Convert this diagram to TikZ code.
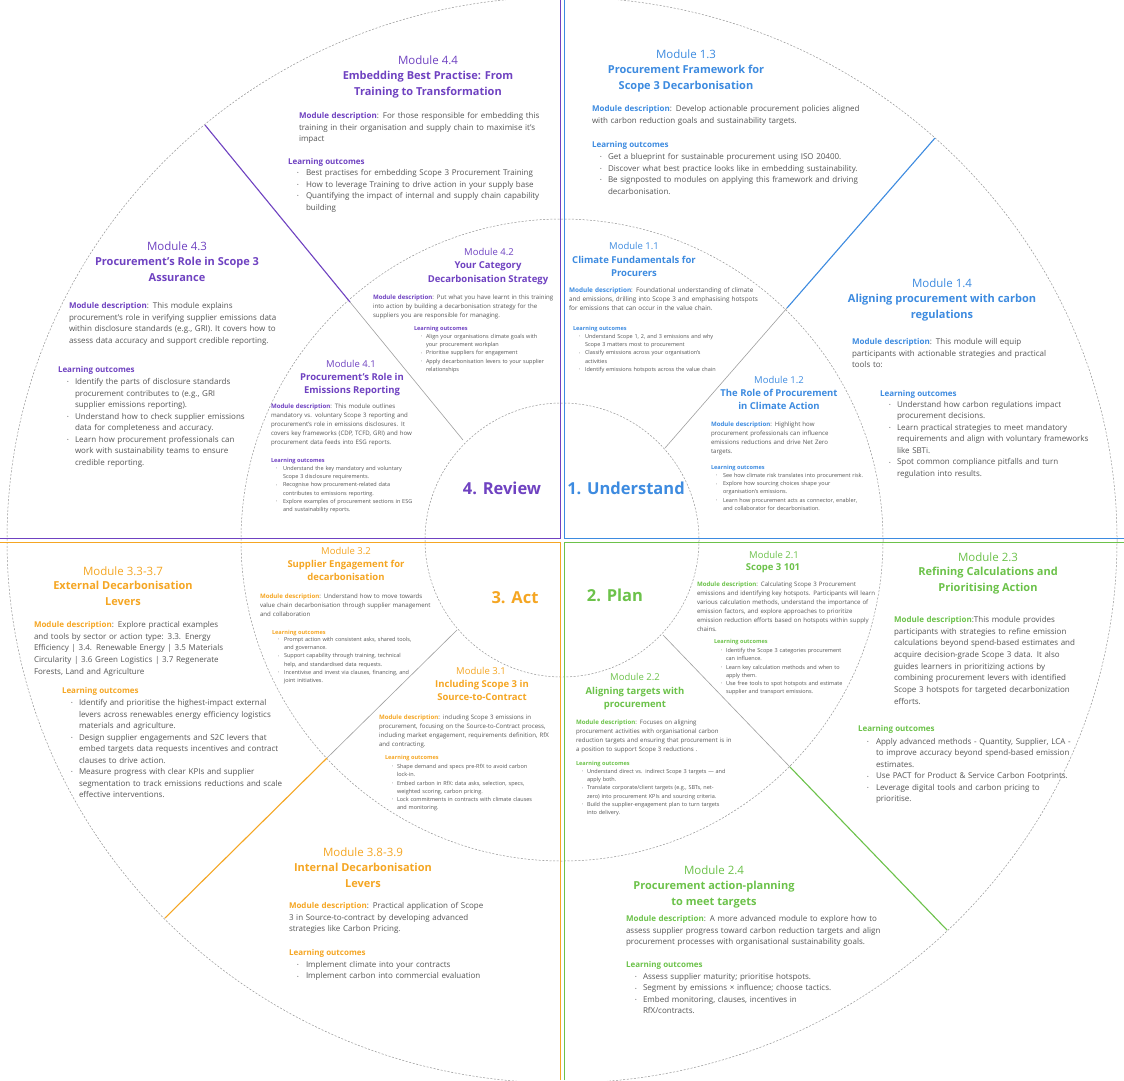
\documentclass[tikz,border=0pt]{standalone}
\usepackage{fontspec}
\setmainfont{Open Sans}
\usepackage{graphicx}
\definecolor{purp}{RGB}{111,66,193}
\definecolor{blu}{RGB}{61,139,224}
\definecolor{orng}{RGB}{245,166,35}
\definecolor{grn}{RGB}{108,194,74}
\definecolor{txt}{RGB}{85,85,85}
\definecolor{dashgray}{RGB}{150,150,150}
\newlength\bind
\newcommand\bdot{\raisebox{0.12em}{\scalebox{0.55}{•}}}
\newcommand\li[1]{\hangindent=\bind\hangafter=1\noindent\makebox[\bind][l]{\bdot}{\let\\\newline#1}\par}
\newcommand\md[1]{{\bfseries\color{#1}Module description}:}
\tikzset{
 every node/.style={inner sep=0pt, outer sep=0pt},
 bi/.style={execute at begin node={\setlength\bind{#1}}},
 onum/.style={font=\fontsize{11.5}{14}\selectfont, anchor=base},
 ottl/.style={font=\fontsize{11}{16}\selectfont\bfseries, anchor=north, align=center},
 odesc/.style={font=\fontsize{8}{11.7}\selectfont, text=txt, anchor=north west, text width=300pt, align=left},
 ohead/.style={font=\fontsize{8}{10}\selectfont\bfseries, anchor=base west},
 olist/.style={font=\fontsize{8}{11.5}\selectfont, text=txt, anchor=north west, text width=300pt, align=left},
 inum/.style={font=\fontsize{9.5}{11}\selectfont, anchor=base},
 ittl/.style={font=\fontsize{9.5}{13.5}\selectfont\bfseries, anchor=north, align=center},
 idesc/.style={font=\fontsize{6.1}{9}\selectfont, text=txt, anchor=north west, text width=240pt, align=left},
 ihead/.style={font=\fontsize{5.6}{7}\selectfont\bfseries, anchor=base west},
 ilist/.style={font=\fontsize{5.5}{8.2}\selectfont, text=txt, anchor=north west, text width=240pt, align=left},
 big/.style={font=\fontsize{16.5}{20}\selectfont\bfseries, anchor=base},
 dashc/.style={draw=dashgray, line width=0.5pt, dash pattern=on 2pt off 1.6pt},
 spoke/.style={draw=gray!75, line width=0.6pt},
 cspoke/.style={line width=1.1pt},
}
\begin{document}
\begin{tikzpicture}[x=1pt,y=-1pt]
\useasboundingbox (0,0) rectangle (1124,1080);
\fill[white] (0,0) rectangle (1124,1080);
\coordinate (c) at (562,540);
\begin{scope}
\clip (0,0) rectangle (1124,1080);
\draw[dashc] (c) ellipse[x radius=555, y radius=543];
\end{scope}
\draw[dashc] (c) circle[radius=321];
\draw[dashc] (c) circle[radius=137];
% quadrant edges
\draw[purp, line width=1pt] (560,0) -- (560,538) -- (0,538);
\draw[blu, line width=1pt] (564,0) -- (564,538) -- (1124,538);
\draw[orng, line width=1pt] (560,1080) -- (560,542) -- (0,542);
\draw[grn, line width=1pt] (564,1080) -- (564,542) -- (1124,542);
% spokes
\coordinate (tli) at (463,440); \coordinate (tlm) at (350,302); \coordinate (tlo) at (205,125);
\coordinate (tri) at (665,448); \coordinate (trm) at (787,308); \coordinate (tro) at (935,138);
\coordinate (bri) at (663,635); \coordinate (brm) at (790,767); \coordinate (bro) at (947,930);
\coordinate (bli) at (457,630); \coordinate (blm) at (327,758); \coordinate (blo) at (165,918);
\draw[spoke] (tli) -- (tlm); \draw[cspoke, purp] (tlm) -- (tlo);
\draw[spoke] (tri) -- (trm); \draw[cspoke, blu] (trm) -- (tro);
\draw[spoke] (bri) -- (brm); \draw[cspoke, grn] (brm) -- (bro);
\draw[spoke] (bli) -- (blm); \draw[cspoke, orng] (blm) -- (blo);
% big labels
\node[big, text=purp] (rev) at (502,494) {4. Review};
\node[big, text=blu] (und) at (626,494) {1. Understand};
\node[big, text=orng] (act) at (515,603) {3. Act};
\node[big, text=grn] (pln) at (615,601) {2. Plan};
% ---------- Module 4.4
\node[onum, text=purp] (m44n) at (428,64) {Module 4.4};
\node[ottl, text=purp] (m44t) at (428,71) {Embedding Best Practise: From\\Training to Transformation};
\node[odesc] (m44d) at (299,112.4) {\md{purp} For those responsible for embedding this\\training in their organisation and supply chain to maximise it's\\impact};
\node[ohead, text=purp] (m44h) at (288,164.6) {Learning outcomes};
\node[olist, bi=9pt] (m44l) at (297,169.4) {\li{Best practises for embedding Scope 3 Procurement Training}\li{How to leverage Training to drive action in your supply base}\li{Quantifying the impact of internal and supply chain capability\\building}};
% ---------- Module 1.3
\node[onum, text=blu] (m13n) at (686,58) {Module 1.3};
\node[ottl, text=blu] (m13t) at (686,65) {Procurement Framework for\\Scope 3 Decarbonisation};
\node[odesc] (m13d) at (592,105.4) {\md{blu} Develop actionable procurement policies aligned\\with carbon reduction goals and sustainability targets.};
\node[ohead, text=blu] (m13h) at (592,147.6) {Learning outcomes};
\node[olist, bi=8pt] (m13l) at (600,153.4) {\li{Get a blueprint for sustainable procurement using ISO 20400.}\li{Discover what best practice looks like in embedding sustainability.}\li{Be signposted to modules on applying this framework and driving\\decarbonisation.}};
% ---------- Module 4.3
\node[onum, text=purp] (m43n) at (177,250) {Module 4.3};
\node[ottl, text=purp] (m43t) at (177,257) {Procurement's Role in Scope 3\\Assurance};
\node[odesc] (m43d) at (69,302.4) {\md{purp} This module explains\\procurement's role in verifying supplier emissions data\\within disclosure standards (e.g., GRI). It covers how to\\assess data accuracy and support credible reporting.};
\node[ohead, text=purp] (m43h) at (58,372.6) {Learning outcomes};
\node[olist, bi=8pt] (m43l) at (67,378.4) {\li{Identify the parts of disclosure standards\\procurement contributes to (e.g., GRI\\supplier emissions reporting).}\li{Understand how to check supplier emissions\\data for completeness and accuracy.}\li{Learn how procurement professionals can\\work with sustainability teams to ensure\\credible reporting.}};
% ---------- Module 1.4
\node[onum, text=blu] (m14n) at (942,287) {Module 1.4};
\node[ottl, text=blu] (m14t) at (942,294) {Aligning procurement with carbon\\regulations};
\node[odesc] (m14d) at (852,338.4) {\md{blu} This module will equip\\participants with actionable strategies and practical\\tools to:};
\node[ohead, text=blu] (m14h) at (880,396.6) {Learning outcomes};
\node[olist, bi=8pt] (m14l) at (889,401.4) {\li{Understand how carbon regulations impact\\procurement decisions.}\li{Learn practical strategies to meet mandatory\\requirements and align with voluntary frameworks\\like SBTi.}\li{Spot common compliance pitfalls and turn\\regulation into results.}};
% ---------- Module 3.3-3.7
\node[onum, text=orng] (m33n) at (123,575) {Module 3.3-3.7};
\node[ottl, text=orng] (m33t) at (123,581) {External Decarbonisation\\Levers};
\node[odesc] (m33d) at (34,621.4) {\md{orng} Explore practical examples\\and tools by sector or action type: 3.3. Energy\\Efficiency | 3.4. Renewable Energy | 3.5 Materials\\Circularity | 3.6 Green Logistics | 3.7 Regenerate\\Forests, Land and Agriculture};
\node[ohead, text=orng] (m33h) at (62,693.6) {Learning outcomes};
\node[olist, bi=8pt] (m33l) at (71,699.4) {\li{Identify and prioritise the highest-impact external\\levers across renewables energy efficiency logistics\\materials and agriculture.}\li{Design supplier engagements and S2C levers that\\embed targets data requests incentives and contract\\clauses to drive action.}\li{Measure progress with clear KPIs and supplier\\segmentation to track emissions reductions and scale\\effective interventions.}};
% ---------- Module 2.3
\node[onum, text=grn] (m23n) at (988,561) {Module 2.3};
\node[ottl, text=grn] (m23t) at (988,567) {Refining Calculations and\\Prioritising Action};
\node[odesc] (m23d) at (894,616.4) {\md{grn}This module provides\\participants with strategies to refine emission\\calculations beyond spend-based estimates and\\acquire decision-grade Scope 3 data. It also\\guides learners in prioritizing actions by\\combining procurement levers with identified\\Scope 3 hotspots for targeted decarbonization\\efforts.};
\node[ohead, text=grn] (m23h) at (858,731.6) {Learning outcomes};
\node[olist, bi=9pt] (m23l) at (867,738.4) {\li{Apply advanced methods - Quantity, Supplier, LCA -\\to improve accuracy beyond spend-based emission\\estimates.}\li{Use PACT for Product \& Service Carbon Footprints.}\li{Leverage digital tools and carbon pricing to\\prioritise.}};
% ---------- Module 3.8-3.9
\node[onum, text=orng] (m38n) at (363,856) {Module 3.8-3.9};
\node[ottl, text=orng] (m38t) at (363,863) {Internal Decarbonisation\\Levers};
\node[odesc] (m38d) at (289,902.4) {\md{orng} Practical application of Scope\\3 in Source-to-contract by developing advanced\\strategies like Carbon Pricing.};
\node[ohead, text=orng] (m38h) at (289,955.6) {Learning outcomes};
\node[olist, bi=9pt] (m38l) at (297,961.4) {\li{Implement climate into your contracts}\li{Implement carbon into commercial evaluation}};
% ---------- Module 2.4
\node[onum, text=grn] (m24n) at (714,874) {Module 2.4};
\node[ottl, text=grn] (m24t) at (714,881) {Procurement action-planning\\to meet targets};
\node[odesc] (m24d) at (626,915.4) {\md{grn} A more advanced module to explore how to\\assess supplier progress toward carbon reduction targets and align\\procurement processes with organisational sustainability goals.};
\node[ohead, text=grn] (m24h) at (626,967.6) {Learning outcomes};
\node[olist, bi=8pt] (m24l) at (635,973.4) {\li{Assess supplier maturity; prioritise hotspots.}\li{Segment by emissions × influence; choose tactics.}\li{Embed monitoring, clauses, incentives in\\RfX/contracts.}};
% ---------- Module 4.2
\node[inum, text=purp] (m42n) at (489,255.3) {Module 4.2};
\node[ittl, text=purp] (m42t) at (488,262) {Your Category\\Decarbonisation Strategy};
\node[idesc] (m42d) at (373,295.1) {\md{purp} Put what you have learnt in this training\\into action by building a decarbonisation strategy for the\\suppliers you are responsible for managing.};
\node[ihead, text=purp] (m42h) at (414,330.8) {Learning outcomes};
\node[ilist, bi=5pt] (m42l) at (421,334.4) {\li{Align your organisations climate goals with\\your procurement workplan}\li{Prioritise suppliers for engagement}\li{Apply decarbonisation levers to your supplier\\relationships}};
% ---------- Module 4.1
\node[inum, text=purp] (m41n) at (351,367.3) {Module 4.1};
\node[ittl, text=purp] (m41t) at (352,373) {Procurement’s Role in\\Emissions Reporting};
\node[idesc] (m41d) at (271,404.1) {\md{purp} This module outlines\\mandatory vs. voluntary Scope 3 reporting and\\procurement's role in emissions disclosures. It\\covers key frameworks (CDP, TCFD, GRI) and how\\procurement data feeds into ESG reports.};
\node[ihead, text=purp] (m41h) at (271,462.8) {Learning outcomes};
\node[ilist, bi=7pt] (m41l) at (276,466.4) {\li{Understand the key mandatory and voluntary\\Scope 3 disclosure requirements.}\li{Recognise how procurement-related data\\contributes to emissions reporting.}\li{Explore examples of procurement sections in ESG\\and sustainability reports.}};
% ---------- Module 1.1
\node[inum, text=blu] (m11n) at (634,249.3) {Module 1.1};
\node[ittl, text=blu] (m11t) at (634,256) {Climate Fundamentals for\\Procurers};
\node[idesc, font=\fontsize{6.4}{9}\selectfont] (m11d) at (569,287.1) {\md{blu} Foundational understanding of climate\\and emissions, drilling into Scope 3 and emphasising hotspots\\for emissions that can occur in the value chain.};
\node[ihead, text=blu] (m11h) at (573,330.8) {Learning outcomes};
\node[ilist, bi=6pt] (m11l) at (579,334.4) {\li{Understand Scope 1, 2, and 3 emissions and why\\Scope 3 matters most to procurement}\li{Classify emissions across your organisation's\\activities}\li{Identify emissions hotspots across the value chain}};
% ---------- Module 1.2
\node[inum, text=blu] (m12n) at (779,383.3) {Module 1.2};
\node[ittl, text=blu] (m12t) at (779,389) {The Role of Procurement\\in Climate Action};
\node[idesc] (m12d) at (711,422.1) {\md{blu} Highlight how\\procurement professionals can influence\\emissions reductions and drive Net Zero\\targets.};
\node[ihead, text=blu] (m12h) at (711,469.8) {Learning outcomes};
\node[ilist, bi=7pt] (m12l) at (716,473.4) {\li{See how climate risk translates into procurement risk.}\li{Explore how sourcing choices shape your\\organisation's emissions.}\li{Learn how procurement acts as connector, enabler,\\and collaborator for decarbonisation.}};
% ---------- Module 3.2
\node[inum, text=orng] (m32n) at (346,554.3) {Module 3.2};
\node[ittl, text=orng] (m32t) at (346,560) {Supplier Engagement for\\decarbonisation};
\node[idesc] (m32d) at (260,594.1) {\md{orng} Understand how to move towards\\value chain decarbonisation through supplier management\\and collaboration};
\node[ihead, text=orng] (m32h) at (272,634.8) {Learning outcomes};
\node[ilist, bi=6pt] (m32l) at (278,637.4) {\li{Prompt action with consistent asks, shared tools,\\and governance.}\li{Support capability through training, technical\\help, and standardised data requests.}\li{Incentivise and invest via clauses, financing, and\\joint initiatives.}};
% ---------- Module 3.1
\node[inum, text=orng] (m31n) at (481,674.3) {Module 3.1};
\node[ittl, text=orng] (m31t) at (482,680) {Including Scope 3 in\\Source-to-Contract};
\node[idesc] (m31d) at (379,715.1) {\md{orng} including Scope 3 emissions in\\procurement, focusing on the Source-to-Contract process,\\including market engagement, requirements definition, RfX\\and contracting.};
\node[ihead, text=orng] (m31h) at (385,759.8) {Learning outcomes};
\node[ilist, bi=5pt] (m31l) at (392,764.4) {\li{Shape demand and specs pre-RfX to avoid carbon\\lock-in.}\li{Embed carbon in RfX: data asks, selection, specs,\\weighted scoring, carbon pricing.}\li{Lock commitments in contracts with climate clauses\\and monitoring.}};
% ---------- Module 2.1
\node[inum, text=grn] (m21n) at (774,558.3) {Module 2.1};
\node[ittl, text=grn] (m21t) at (773,564) {Scope 3 101};
\node[idesc] (m21d) at (697,582.1) {\md{grn} Calculating Scope 3 Procurement\\emissions and identifying key hotspots. Participants will learn\\various calculation methods, understand the importance of\\emission factors, and explore approaches to prioritize\\emission reduction efforts based on hotspots within supply\\chains.};
\node[ihead, text=grn] (m21h) at (714,643.8) {Learning outcomes};
\node[ilist, bi=5pt] (m21l) at (721,648.4) {\li{Identify the Scope 3 categories procurement\\can influence.}\li{Learn key calculation methods and when to\\apply them.}\li{Use free tools to spot hotspots and estimate\\supplier and transport emissions.}};
% ---------- Module 2.2
\node[inum, text=grn] (m22n) at (635,680.3) {Module 2.2};
\node[ittl, text=grn] (m22t) at (635,687) {Aligning targets with\\procurement};
\node[idesc] (m22d) at (576,720.1) {\md{grn} Focuses on aligning\\procurement activities with organisational carbon\\reduction targets and ensuring that procurement is in\\a position to support Scope 3 reductions .};
\node[ihead, text=grn] (m22h) at (576,765.8) {Learning outcomes};
\node[ilist, bi=5pt] (m22l) at (582,769.4) {\li{Understand direct vs. indirect Scope 3 targets — and\\apply both.}\li{Translate corporate/client targets (e.g., SBTs, net-\\zero) into procurement KPIs and sourcing criteria.}\li{Build the supplier-engagement plan to turn targets\\into delivery.}};
\end{tikzpicture}
\end{document}
